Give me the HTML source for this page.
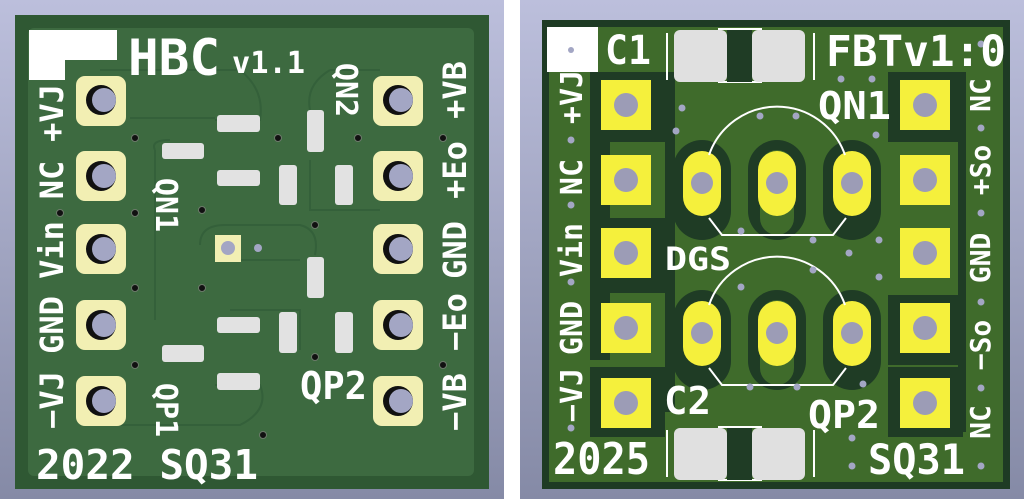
<!DOCTYPE html>
<html><head><meta charset="utf-8"><style>
html,body{margin:0;padding:0;width:1024px;height:499px;overflow:hidden;background:#fff}
text{font-family:"DejaVu Sans Mono","Liberation Mono",monospace;fill:#fff;font-weight:bold}
</style></head><body>
<svg width="1024" height="499" viewBox="0 0 1024 499" xmlns="http://www.w3.org/2000/svg">
<defs>
<linearGradient id="bg" x1="0" y1="0" x2="0" y2="1"><stop offset="0" stop-color="#bcbfdc"/><stop offset="1" stop-color="#858aa6"/></linearGradient>
<g id="h"><circle r="15" fill="#111"/><circle cx="3" cy="0" r="12" fill="#a3a6c4"/></g>
</defs>
<rect x="0" y="0" width="504" height="499" fill="url(#bg)"/>
<rect x="520" y="0" width="504" height="499" fill="url(#bg)"/>

<!-- LEFT BOARD -->
<rect x="15" y="15" width="474" height="474" fill="#2f5833"/>
<rect x="28" y="28" width="446" height="448" rx="6" fill="#3d6a40"/>
<g fill="none" stroke="#34603a" stroke-width="2">
<path d="M100 70 H240 Q265 90 260 120 H215 M130 118 H215 M155 150 V320 M155 150 Q150 140 170 140"/>
<path d="M330 70 Q305 85 310 110 M330 70 H380 M310 160 V210 H380 M200 245 Q200 225 225 225 H300 Q320 230 315 255 M240 260 H300"/>
<path d="M100 425 H240 Q270 410 260 385 H215 M230 310 H300 V350"/>
</g>
<rect x="29" y="30" width="88" height="30" fill="#fff"/>
<rect x="29" y="58" width="36" height="22" fill="#fff"/>
<text x="128" y="75" font-size="50" textLength="92" lengthAdjust="spacingAndGlyphs" font-weight="normal">HBC</text>
<text x="232" y="73" font-size="30" textLength="73" lengthAdjust="spacingAndGlyphs">v1.1</text>
<text x="36" y="479" font-size="41" textLength="222" lengthAdjust="spacingAndGlyphs">2022 SQ31</text>
<text x="300" y="399" font-size="38" textLength="67" lengthAdjust="spacingAndGlyphs">QP2</text>
<g>
<text transform="translate(63,113) rotate(-90)" font-size="32" text-anchor="middle">+VJ</text>
<text transform="translate(63,180) rotate(-90)" font-size="32" text-anchor="middle">NC</text>
<text transform="translate(63,250) rotate(-90)" font-size="32" text-anchor="middle">Vin</text>
<text transform="translate(63,325) rotate(-90)" font-size="32" text-anchor="middle">GND</text>
<text transform="translate(63,400) rotate(-90)" font-size="32" text-anchor="middle">−VJ</text>
<text transform="translate(466,90) rotate(-90)" font-size="32" text-anchor="middle">+VB</text>
<text transform="translate(466,170) rotate(-90)" font-size="32" text-anchor="middle">+Eo</text>
<text transform="translate(466,250) rotate(-90)" font-size="32" text-anchor="middle">GND</text>
<text transform="translate(466,322) rotate(-90)" font-size="32" text-anchor="middle">−Eo</text>
<text transform="translate(466,402) rotate(-90)" font-size="32" text-anchor="middle">−VB</text>
<text transform="translate(156,205) rotate(90)" font-size="30" text-anchor="middle">QN1</text>
<text transform="translate(336,90) rotate(90)" font-size="30" text-anchor="middle">QN2</text>
<text transform="translate(156,410) rotate(90)" font-size="30" text-anchor="middle">QP1</text>
</g>
<g fill="#f2efb3">
<rect x="76" y="76" width="50" height="50" rx="9"/><rect x="76" y="151" width="50" height="50" rx="9"/><rect x="76" y="224" width="50" height="50" rx="9"/><rect x="76" y="300" width="50" height="50" rx="9"/><rect x="76" y="376" width="50" height="50" rx="9"/>
<rect x="373" y="76" width="50" height="50" rx="9"/><rect x="373" y="151" width="50" height="50" rx="9"/><rect x="373" y="224" width="50" height="50" rx="9"/><rect x="373" y="300" width="50" height="50" rx="9"/><rect x="373" y="376" width="50" height="50" rx="9"/>
<rect x="215" y="235" width="26" height="27"/>
</g>
<use href="#h" x="101" y="100"/><use href="#h" x="101" y="176"/><use href="#h" x="101" y="249"/><use href="#h" x="101" y="325"/><use href="#h" x="101" y="401"/>
<use href="#h" x="398" y="100"/><use href="#h" x="398" y="176"/><use href="#h" x="398" y="249"/><use href="#h" x="398" y="325"/><use href="#h" x="398" y="401"/>
<circle cx="228" cy="248" r="7" fill="#a3a6c4"/>
<g fill="#e2e2e2">
<rect x="217" y="115" width="43" height="17" rx="3"/><rect x="162" y="143" width="42" height="16" rx="3"/><rect x="217" y="170" width="43" height="16" rx="3"/>
<rect x="279" y="165" width="18" height="40" rx="3"/><rect x="307" y="110" width="17" height="42" rx="3"/><rect x="335" y="165" width="18" height="40" rx="3"/>
<rect x="307" y="257" width="17" height="41" rx="3"/><rect x="279" y="312" width="18" height="41" rx="3"/><rect x="335" y="312" width="18" height="41" rx="3"/>
<rect x="217" y="317" width="43" height="16" rx="3"/><rect x="162" y="345" width="42" height="17" rx="3"/><rect x="217" y="373" width="43" height="17" rx="3"/>
</g>
<g fill="#111" stroke="#6c7a6a" stroke-width="1">
<circle cx="135" cy="138" r="3.5"/><circle cx="60" cy="213" r="3.5"/><circle cx="135" cy="213" r="3.5"/><circle cx="202" cy="210" r="3.5"/><circle cx="278" cy="138" r="3.5"/><circle cx="358" cy="138" r="3.5"/><circle cx="443" cy="138" r="3.5"/><circle cx="315" cy="225" r="3.5"/><circle cx="135" cy="288" r="3.5"/><circle cx="202" cy="288" r="3.5"/><circle cx="315" cy="357" r="3.5"/><circle cx="135" cy="365" r="3.5"/><circle cx="443" cy="365" r="3.5"/><circle cx="263" cy="435" r="3.5"/>
</g>
<circle cx="258" cy="248" r="4" fill="#a3a6c4"/>

<!-- RIGHT BOARD -->
<rect x="542" y="20" width="468" height="469" fill="#1e3b24"/>
<rect x="549" y="27" width="454" height="455" fill="#3f6b2b"/>
<g fill="#1f3c25">
<rect x="590" y="72" width="75" height="70"/><rect x="590" y="140" width="20" height="220"/>
<rect x="590" y="218" width="75" height="75"/><rect x="590" y="367" width="75" height="70"/>
<rect x="888" y="72" width="75" height="70"/><rect x="888" y="295" width="75" height="70"/><rect x="888" y="367" width="75" height="70"/>
<rect x="673" y="140" width="58" height="100" rx="29"/><rect x="748" y="140" width="58" height="100" rx="29"/><rect x="823" y="140" width="58" height="100" rx="29"/>
<rect x="673" y="290" width="58" height="100" rx="29"/><rect x="748" y="290" width="58" height="100" rx="29"/><rect x="823" y="290" width="58" height="100" rx="29"/>
<rect x="665" y="72" width="10" height="340"/><rect x="958" y="72" width="8" height="360"/>
</g>
<g fill="#3f6b2b">
<rect x="760" y="150" width="34" height="85" rx="17"/><rect x="760" y="300" width="34" height="85" rx="17"/>
</g>
<rect x="547" y="27" width="51" height="45" fill="#fff"/>
<circle cx="571" cy="50" r="3" fill="#a3a6c4"/>
<g fill="#f5f03c">
<rect x="601" y="80" width="50" height="50"/><rect x="601" y="155" width="50" height="50"/><rect x="601" y="228" width="50" height="50"/><rect x="601" y="303" width="50" height="50"/><rect x="601" y="378" width="50" height="50"/>
<rect x="900" y="80" width="50" height="50"/><rect x="900" y="155" width="50" height="50"/><rect x="900" y="228" width="50" height="50"/><rect x="900" y="303" width="50" height="50"/><rect x="900" y="378" width="50" height="50"/>
<rect x="683" y="151" width="38" height="65" rx="19"/><rect x="758" y="151" width="38" height="65" rx="19"/><rect x="833" y="151" width="38" height="65" rx="19"/>
<rect x="683" y="301" width="38" height="65" rx="19"/><rect x="758" y="301" width="38" height="65" rx="19"/><rect x="833" y="301" width="38" height="65" rx="19"/>
</g>
<g fill="#9c9cb6">
<circle cx="626" cy="105" r="12"/><circle cx="626" cy="180" r="12"/><circle cx="626" cy="253" r="12"/><circle cx="626" cy="328" r="12"/><circle cx="626" cy="403" r="12"/>
<circle cx="925" cy="105" r="12"/><circle cx="925" cy="180" r="12"/><circle cx="925" cy="253" r="12"/><circle cx="925" cy="328" r="12"/><circle cx="925" cy="403" r="12"/>
<circle cx="702" cy="183" r="11"/><circle cx="777" cy="183" r="11"/><circle cx="852" cy="183" r="11"/>
<circle cx="702" cy="333" r="11"/><circle cx="777" cy="333" r="11"/><circle cx="852" cy="333" r="11"/>
</g>
<g fill="none" stroke="#fff" stroke-width="2">
<path d="M709 155 A72 72 0 0 1 845 155 M846 218 L833 235 L722 235 L709 218"/>
<path d="M709 305 A72 72 0 0 1 845 305 M846 368 L833 385 L722 385 L709 368"/>
<path d="M667 33 V80 M814 33 V80 M718 29 H762 M718 82 H762"/>
<path d="M667 430 V477 M814 430 V477 M718 427 H762 M718 480 H762"/>
</g>
<g fill="#e0e0e0">
<rect x="674" y="30" width="53" height="52" rx="6"/><rect x="752" y="30" width="53" height="52" rx="6"/>
<rect x="674" y="428" width="53" height="52" rx="6"/><rect x="752" y="428" width="53" height="52" rx="6"/>
</g>
<rect x="727" y="30" width="25" height="52" fill="#1f3c25"/>
<rect x="727" y="428" width="25" height="52" fill="#1f3c25"/>
<g fill="#a3a6c4">
<circle cx="682" cy="108" r="3.5"/><circle cx="676" cy="131" r="3.5"/><circle cx="760" cy="116" r="3.5"/><circle cx="796" cy="116" r="3.5"/><circle cx="841" cy="79" r="3.5"/><circle cx="872" cy="79" r="3.5"/><circle cx="876" cy="135" r="3.5"/>
<circle cx="741" cy="231" r="3.5"/><circle cx="813" cy="240" r="3.5"/><circle cx="879" cy="240" r="3.5"/><circle cx="849" cy="253" r="3.5"/><circle cx="879" cy="277" r="3.5"/><circle cx="813" cy="270" r="3.5"/><circle cx="741" cy="287" r="3.5"/>
<circle cx="750" cy="387" r="3.5"/><circle cx="797" cy="387" r="3.5"/><circle cx="863" cy="384" r="3.5"/><circle cx="852" cy="438" r="3.5"/><circle cx="852" cy="466" r="3.5"/>
<circle cx="571" cy="140" r="3.5"/><circle cx="571" cy="205" r="3.5"/><circle cx="571" cy="282" r="3.5"/><circle cx="571" cy="428" r="3.5"/>
<circle cx="981" cy="44" r="3.5"/><circle cx="981" cy="128" r="3.5"/><circle cx="981" cy="213" r="3.5"/><circle cx="981" cy="302" r="3.5"/><circle cx="981" cy="388" r="3.5"/><circle cx="981" cy="466" r="3.5"/>
</g>
<text x="605" y="64" font-size="40" textLength="46" lengthAdjust="spacingAndGlyphs" font-weight="normal">C1</text>
<text x="826" y="66" font-size="43" textLength="180" lengthAdjust="spacingAndGlyphs" font-weight="normal">FBTv1:0</text>
<text x="818" y="119" font-size="38" textLength="73" lengthAdjust="spacingAndGlyphs" font-weight="normal">QN1</text>
<text x="665" y="270" font-size="32" textLength="66" lengthAdjust="spacingAndGlyphs">DGS</text>
<text x="664" y="414" font-size="38" textLength="47" lengthAdjust="spacingAndGlyphs" font-weight="normal">C2</text>
<text x="808" y="428" font-size="38" textLength="72" lengthAdjust="spacingAndGlyphs" font-weight="normal">QP2</text>
<text x="553" y="474" font-size="44" textLength="97" lengthAdjust="spacingAndGlyphs">2025</text>
<text x="868" y="474" font-size="42" textLength="97" lengthAdjust="spacingAndGlyphs">SQ31</text>
<g>
<text transform="translate(582,97) rotate(-90)" font-size="30" text-anchor="middle">+VJ</text>
<text transform="translate(582,177) rotate(-90)" font-size="30" text-anchor="middle">NC</text>
<text transform="translate(582,250) rotate(-90)" font-size="30" text-anchor="middle">Vin</text>
<text transform="translate(582,328) rotate(-90)" font-size="30" text-anchor="middle">GND</text>
<text transform="translate(582,395) rotate(-90)" font-size="30" text-anchor="middle">−VJ</text>
<text transform="translate(990,95) rotate(-90)" font-size="28" text-anchor="middle">NC</text>
<text transform="translate(990,170) rotate(-90)" font-size="28" text-anchor="middle">+So</text>
<text transform="translate(990,258) rotate(-90)" font-size="28" text-anchor="middle">GND</text>
<text transform="translate(990,345) rotate(-90)" font-size="28" text-anchor="middle">−So</text>
<text transform="translate(990,422) rotate(-90)" font-size="28" text-anchor="middle">NC</text>
</g>
</svg>
</body></html>
